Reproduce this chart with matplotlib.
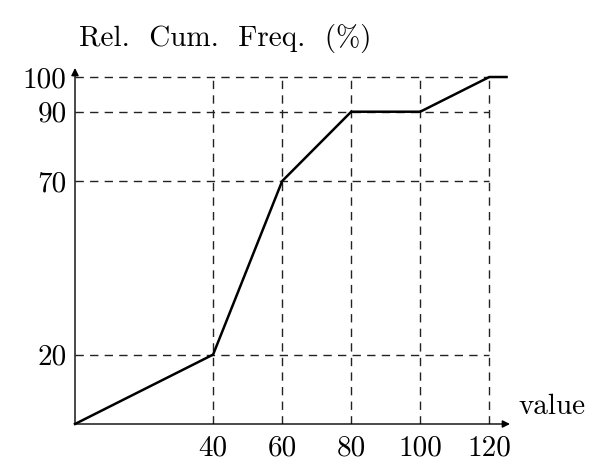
import matplotlib
matplotlib.use('Agg')
import matplotlib.pyplot as plt

plt.rcParams['font.family'] = 'serif'
plt.rcParams['font.serif'] = ['cmr10']
plt.rcParams['mathtext.fontset'] = 'cm'
plt.rcParams['axes.unicode_minus'] = False

# Data
values = [0, 40, 60, 80, 100, 120, 125]
rel_cum_freq = [0, 20, 70, 90, 90, 100, 100]
x_ticks = [40, 60, 80, 100, 120]
y_ticks = [20, 70, 90, 100]

fig = plt.figure(figsize=(6.08, 4.74), dpi=100)
ax = fig.add_axes([75 / 608, 50 / 474, 435 / 608, 356 / 474])
ax.set_xlim(0, 126)
ax.set_ylim(0, 102.6)

# dashed grid
for x in x_ticks:
    ax.plot([x, x], [0, max(y_ticks)], color='#222222', lw=1.0, ls=(0, (6, 4.5)))
for y in y_ticks:
    ax.plot([0, max(x_ticks)], [y, y], color='#222222', lw=1.0, ls=(0, (6, 4.5)))

ax.plot(values, rel_cum_freq, color='black', lw=1.8, solid_joinstyle='miter', clip_on=False, zorder=3)

# axes with arrows
for s in ax.spines.values():
    s.set_visible(False)
ax.annotate('', xy=(126, 0), xytext=(0, 0), annotation_clip=False,
            arrowprops=dict(arrowstyle='-|>', color='black', lw=1.0, mutation_scale=11, shrinkA=0, shrinkB=0))
ax.annotate('', xy=(0, 102.6), xytext=(0, 0), annotation_clip=False,
            arrowprops=dict(arrowstyle='-|>', color='black', lw=1.0, mutation_scale=11, shrinkA=0, shrinkB=0))

ax.set_xticks(x_ticks)
ax.set_yticks(y_ticks)
ax.tick_params(length=0, labelsize=21)
ax.tick_params(axis='x', pad=8)
ax.tick_params(axis='y', pad=6)

ax.text(128.5, 5, 'value', fontsize=21, ha='left', va='center')
ax.text(1.3, 111, 'Rel.  Cum.  Freq.  (%)', fontsize=21, ha='left', va='center')

fig.savefig('out.png', dpi=100)
